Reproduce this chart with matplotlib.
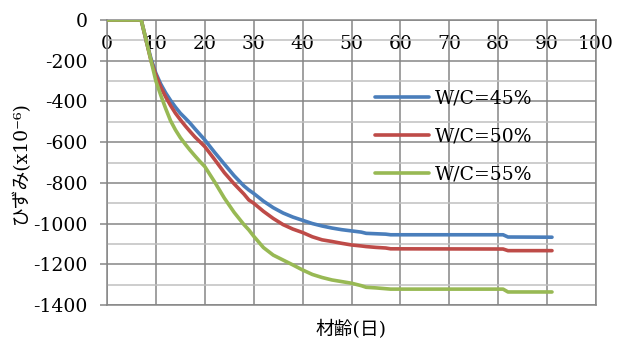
import matplotlib
matplotlib.use("Agg")
import matplotlib.pyplot as plt
from matplotlib.ticker import MultipleLocator

plt.rcParams['axes.unicode_minus'] = False
plt.rcParams['font.family'] = ['DejaVu Serif', 'Noto Sans CJK JP']

days = [0, 7, 8, 9, 10, 11, 12, 13, 14, 15, 16, 17, 18, 19, 20, 22, 24, 26, 28, 29, 30,
        32, 34, 36, 38, 40, 42, 44, 46, 48, 50, 52, 53, 55, 57, 58, 81, 82, 91]
wc45 = [0, 0, -100, -190, -262, -315, -358, -395, -428, -458, -482, -507, -535, -562, -589,
        -650, -708, -765, -815, -835, -852, -890, -922, -948, -968, -984, -1000, -1012, -1022,
        -1030, -1036, -1042, -1048, -1050, -1052, -1055, -1055, -1066, -1067]
wc50 = [0, 0, -100, -200, -270, -330, -378, -420, -458, -490, -520, -548, -575, -598, -622,
        -685, -750, -805, -855, -884, -900, -940, -975, -1005, -1027, -1044, -1065, -1080, -1088,
        -1097, -1105, -1110, -1113, -1117, -1120, -1124, -1125, -1133, -1133]
wc55 = [0, 0, -98, -200, -300, -370, -435, -495, -540, -578, -610, -640, -668, -695, -720,
        -795, -875, -945, -1005, -1031, -1062, -1118, -1155, -1179, -1203, -1228, -1250, -1265,
        -1277, -1285, -1293, -1305, -1313, -1316, -1320, -1322, -1322, -1336, -1336]
labels = ['W/C=45%', 'W/C=50%', 'W/C=55%']
colors = ['#4A7EBB', '#BE4B48', '#98B954']

fig = plt.figure(figsize=(6.25, 3.42), dpi=100)
ax = fig.add_axes([107/625, 1-305/342, (596-107)/625, (305-20)/342])

for ys, lab, c in zip([wc45, wc50, wc55], labels, colors):
    ax.plot(days, ys, color=c, lw=2.6, label=lab, solid_capstyle='round', zorder=3)

ax.set_xlim(0, 100)
ax.set_ylim(-1400, 0)
ax.xaxis.set_major_locator(MultipleLocator(10))
ax.yaxis.set_major_locator(MultipleLocator(200))
ax.yaxis.set_minor_locator(MultipleLocator(100))

ax.grid(True, which='major', axis='both', color='#868686', lw=1.1, zorder=1)
ax.grid(True, which='minor', axis='y', color='#c0c0c0', lw=1.1, zorder=0)
for s in ax.spines.values():
    s.set_color('#868686')
    s.set_linewidth(1.1)

fs = 13.5
ax.tick_params(axis='x', top=False, bottom=False, labeltop=True, labelbottom=False,
               pad=-27, labelsize=fs)
ax.tick_params(axis='y', which='major', length=5, color='#868686', width=1.1,
               pad=9, labelsize=fs)
ax.tick_params(axis='y', which='minor', length=0)

ax.set_ylabel('ひずみ(x10⁻⁶)', fontsize=13.5, labelpad=2)
ax.set_xlabel('材齢(日)', fontsize=13.5, labelpad=11)

ax.legend(loc='upper left', bbox_to_anchor=(0.548, 0.757), frameon=False, fontsize=fs,
          handlelength=2.9, handletextpad=0.3, labelspacing=1.08, borderaxespad=0,
          borderpad=0)

fig.savefig('out.png', dpi=100)
